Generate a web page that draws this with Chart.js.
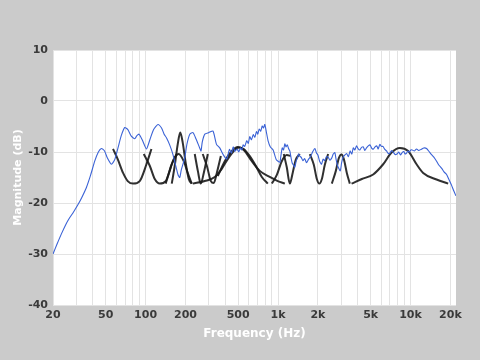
<!DOCTYPE html>
<html><head><meta charset="utf-8">
<script src="https://cdn.jsdelivr.net/npm/chart.js@4/dist/chart.umd.min.js"></script>
<style>html,body{margin:0;padding:0;background:#cbcbcb}#wrap{width:480px;height:360px}</style>
</head><body><div id="wrap"><canvas id="c" width="480" height="360"></canvas></div>
<script>
const xGridValues = [20,30,40,50,60,70,80,90,100,200,300,400,500,600,700,800,900,1000,2000,3000,4000,5000,6000,7000,8000,9000,10000,20000];
const xLabelValues = [20,50,100,200,500,1000,2000,5000,10000,20000];
const xLabelText = ['20','50','100','200','500','1k','2k','5k','10k','20k'];
const yTickValues = [10,0,-10,-20,-30,-40];

const responseFreq = [20,21.5,23.1,25,26.7,28.5,30.9,33,35.7,38.5,41.3,44,46.4,49,51.5,55.2,58.5,61.9,65.5,69.6,73.5,78,82.8,86,89.2,95,101.5,108,115,124,132,138,143.7,152,161,170,176,181,186,197.6,205,215.6,228,240,256,262,268,280,300,323,343,363,385,409,
430,445,458,472,490,505,520,533,545,560,580,596,612,630,650,668,687,703,720,740,760,777,794,815,841,875,918,970,
1031,1050,1075,1100,1125,1150,1175,1200,1227,1255,1280,1310,1338,1370,1400,1430,1459,1500,1540,1590,1640,1700,1760,1830,1896,1950,2000,2060,2129,2190,2250,2320,2388,2460,2540,2610,2684,2740,2800,2870,2950,3020,3100,3190,
3289,3400,3500,3600,3700,3800,3913,4030,4150,4270,4400,4520,4656,4800,4950,5100,5250,5400,5560,5700,5869,6030,6200,6400,6590,6800,7000,7200,7396,7650,7900,8150,8400,8650,8900,9100,9333,9550,9800,10050,10300,10700,11110,11500,12000,12600,13220,13800,14400,15000,15730,16400,17200,17900,18720,19500,20400,21200,22020];
const responseDb = [-30,-28,-26.1,-24.2,-22.9,-21.8,-20.3,-18.9,-17,-14.5,-11.8,-10,-9.3,-9.8,-11.2,-12.4,-11.5,-9.2,-6.8,-5.2,-5.6,-6.9,-7.4,-6.8,-6.5,-7.8,-9.4,-7.5,-5.6,-4.6,-5.3,-6.5,-7.2,-8.6,-10.5,-13,-14.5,-15,-13.5,-11.1,-8.5,-6.5,-6.2,-7.4,-9.2,-9.8,-8,-6.5,-6.2,-5.9,-8.5,-9.2,-10.5,-11.4,
-9.5,-10.2,-9.0,-9.9,-9.4,-10.0,-9.2,-9.6,-8.6,-8.9,-7.8,-8.3,-7.0,-7.6,-6.6,-7.1,-6.0,-6.5,-5.5,-5.9,-4.9,-5.3,-4.6,-6.0,-7.8,-9,-9.6,-11.5,
-12,-10.8,-9.2,-9.6,-8.4,-9.0,-8.6,-9.3,-9.8,-11.2,-12.2,-12.6,-13,-11.8,-11.2,-10.4,-10.8,-11.1,-11.7,-11.3,-12.1,-11.4,-10.9,-9.9,-9.3,-10.2,-10.6,-11.8,-12.4,-11.4,-11.7,-10.9,-11.0,-11.6,-11.2,-10.4,-10.1,-11.4,-12.5,-13.2,-13.7,-12.1,-11.0,-10.6,
-10.3,-10.9,-9.8,-10.4,-9.2,-9.6,-8.8,-9.4,-9.6,-9.1,-9,-9.7,-9.2,-8.8,-8.6,-9.3,-9.4,-9,-8.8,-9.4,-8.5,-8.9,-8.9,-9.5,-9.8,-10.3,-10.2,-9.7,-10,-10.5,-10.4,-10,-10.6,-10.1,-9.9,-10.4,-10.2,-9.8,-10,-9.6,-9.6,-9.8,-9.4,-9.7,-9.5,-9.2,-9.3,-9.9,-10.5,-11,-11.8,-12.6,-13.2,-13.9,-14.4,-15.4,-16.5,-17.6,-18.6];

const band1Freq = [56.8,61.6,67.6,73.3,80.4,90.3,101.5,110.7];
const band1Db = [-9.4,-11.4,-14.1,-15.7,-16.2,-15.7,-12.4,-9.4];
const band2Freq = [96.8,107.5,117.3,127.9,141.9,157.6,171.8];
const band2Db = [-10.4,-12.7,-15.3,-16.2,-15.7,-12.4,-10.4];
const band3Freq = [157.6,166,175,182.7,190.8,201,211.8,223.2];
const band3Db = [-16.2,-12.7,-8.4,-6.2,-8.2,-12.2,-15.3,-16.2];
const band4Freq = [141.9,152,163.2,178,194,208,223];
const band4Db = [-16.2,-13.7,-11.4,-10.4,-11.8,-14.1,-16.2];
const band5Freq = [235,248,261,275,295];
const band5Db = [-10.4,-13.7,-16.2,-14.1,-10.4];
const band6Freq = [270,290,311,327,345,370];
const band6Db = [-10.4,-12.7,-15.7,-16.1,-14.1,-10.8];
const band7Freq = [227,280,333,376,417,463,505,551,612,679,754,837];
const band7Db = [-16.2,-15.7,-14.9,-13.3,-11.4,-9.8,-9.1,-9.4,-10.8,-12.7,-14.9,-16.2];
const band8Freq = [351,396,448,497,551,634,728,866,996,1125];
const band8Db = [-14.7,-11.8,-9.8,-9,-9.6,-11.8,-13.7,-14.9,-15.7,-16.2];
const band9Freq = [897,979,1067,1164,1248];
const band9Db = [-16.2,-14.5,-11.8,-10.6,-10.8];
const band10Freq = [1105,1164,1227,1292,1362,1459];
const band10Db = [-10.4,-13,-16.2,-14,-11.5,-10.4];
const band11Freq = [1738,1862,1963,2049,2141,2255,2388];
const band11Db = [-10.4,-12.5,-15.3,-16.2,-15.3,-12.5,-10.4];
const band12Freq = [2547,2731,2877,3015,3139,3305,3484];
const band12Db = [-16.2,-13.7,-11.2,-10.5,-11.4,-14.1,-16.2];
const band13Freq = [3589,4291,5224,6217,7194,8311,9597,11110,12460,15730,19240];
const band13Db = [-16.2,-15.3,-14.4,-12.4,-10.1,-9.2,-9.8,-12.4,-14.1,-15.4,-16.2];

const bands = [
  [band1Freq,band1Db],[band2Freq,band2Db],[band3Freq,band3Db],[band4Freq,band4Db],
  [band5Freq,band5Db],[band6Freq,band6Db],[band7Freq,band7Db],[band8Freq,band8Db],
  [band9Freq,band9Db],[band10Freq,band10Db],[band11Freq,band11Db],[band12Freq,band12Db],[band13Freq,band13Db]
];

function pts(fs, ds){ return fs.map((f,i)=>({x:f,y:ds[i]})); }

const datasets = bands.map(b=>({
  data: pts(b[0], b[1]), borderColor:'rgba(25,25,25,0.9)', borderWidth:2,
  pointRadius:0, tension:0.4, cubicInterpolationMode:'monotone', fill:false
}));
datasets.unshift({
  data: pts(responseFreq, responseDb), borderColor:'#3a62d6', borderWidth:1.1,
  pointRadius:0, tension:0.2, fill:false
});

const bgPlugin = {
  id:'bg',
  beforeDraw(chart){
    const c = chart.ctx, a = chart.chartArea;
    c.save();
    c.fillStyle = '#cbcbcb';
    c.fillRect(0,0,chart.width,chart.height);
    c.fillStyle = '#ffffff';
    c.fillRect(a.left, a.top, a.right-a.left, a.bottom-a.top);
    c.restore();
  }
};

const tickFont = {family:'DejaVu Sans', size:11, weight:'bold'};
new Chart(document.getElementById('c'), {
  type:'line',
  data:{datasets},
  plugins:[bgPlugin],
  options:{
    responsive:false, animation:false, devicePixelRatio:1,
    layout:{padding:{left:0,right:24,top:50,bottom:19}},
    plugins:{legend:{display:false}, tooltip:{enabled:false}},
    scales:{
      x:{
        type:'logarithmic', min:20, max:22050,
        afterBuildTicks(scale){ scale.ticks = xGridValues.map(v=>({value:v})); },
        afterFit(scale){ scale.height = 36; },
        ticks:{
          autoSkip:false, maxRotation:0, padding:4, color:'#3a3a3a', font:tickFont,
          callback(v){ const i = xLabelValues.indexOf(v); return i>=0 ? xLabelText[i] : ''; }
        },
        grid:{color:'#e3e3e3', drawTicks:false},
        border:{display:false},
        title:{display:true, text:'Frequency (Hz)', color:'#ffffff', font:{family:'DejaVu Sans', size:12, weight:'bold'}, padding:{top:4,bottom:0}}
      },
      y:{
        type:'linear', min:-40, max:10,
        afterBuildTicks(scale){ scale.ticks = yTickValues.map(v=>({value:v})); },
        afterFit(scale){ scale.width = 53; },
        ticks:{color:'#3a3a3a', font:tickFont, padding:5},
        grid:{color:'#e3e3e3', drawTicks:false},
        border:{display:false},
        title:{display:true, text:'Magnitude (dB)', color:'#ffffff', font:{family:'DejaVu Sans', size:11, weight:'bold'}, padding:{top:12,bottom:0}}
      }
    }
  }
});
</script></body></html>
